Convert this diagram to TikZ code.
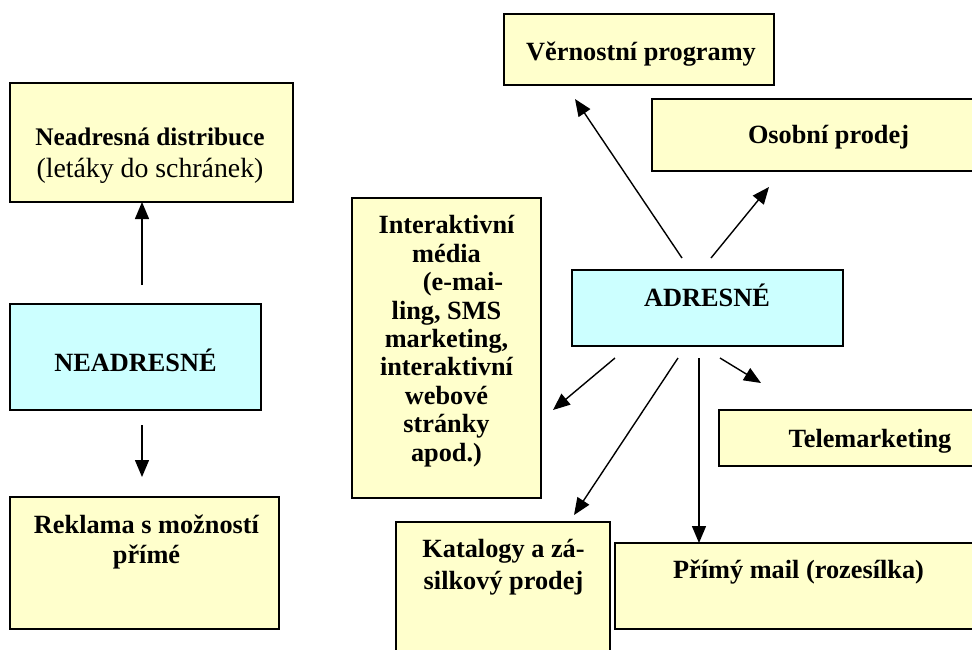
\documentclass[tikz,border=0pt]{standalone}
\usepackage{fontspec}
\setmainfont{Liberation Serif}
\usetikzlibrary{arrows.meta}

\definecolor{boxyellow}{HTML}{FFFFCC}
\definecolor{boxcyan}{HTML}{CCFFFF}

\tikzset{
    ybox/.style={draw, line width=1.2pt, fill=boxyellow, inner sep=0pt, outer sep=0pt},
    cbox/.style={ybox, fill=boxcyan},
    txt/.style={font=\fontsize{26.3}{#1}\selectfont\bfseries, align=center, inner sep=0pt, anchor=base},
    txt/.default=28.4,
    arr/.style={line width=1.4pt, -{Triangle[length=17pt,width=14pt]}}
}

\begin{document}
\begin{tikzpicture}[x=1pt, y=-1pt]
    \useasboundingbox (0,0) rectangle (972,649);
    %
    % boxes
    \node[ybox, minimum width=283pt, minimum height=119pt] (distr)   at (151.5,142.5) {};
    \node[cbox, minimum width=251pt, minimum height=106pt] (neadr)   at (135.5,357) {};
    \node[ybox, minimum width=269pt, minimum height=132pt] (reklama) at (144.5,563) {};
    \node[ybox, minimum width=270pt, minimum height=71pt]  (vern)    at (639,49.5) {};
    \node[ybox, minimum width=338pt, minimum height=72pt]  (osobni)  at (821,135) {};
    \node[ybox, minimum width=189pt, minimum height=300pt] (inter)   at (446.5,348) {};
    \node[cbox, minimum width=271pt, minimum height=76pt]  (adr)     at (707.5,308) {};
    \node[ybox, minimum width=271pt, minimum height=56pt]  (tele)    at (854.5,438) {};
    \node[ybox, minimum width=214pt, minimum height=138pt] (katal)   at (503,591) {};
    \node[ybox, minimum width=375pt, minimum height=86pt]  (mail)    at (802.5,586) {};
    %
    % texts (base = baseline of the last line)
    \node[txt=32, font=\fontsize{25.3}{32}\selectfont\bfseries] (tDistr) at (150,177) {Neadresná distribuce\\{\fontsize{27.8}{32}\selectfont\mdseries (letáky do schránek)}};
    \node[txt] (tNeadr)   at (135.5,371) {NEADRESNÉ};
    \node[txt=30] (tReklama) at (146.5,563) {Reklama s možností\\přímé};
    \node[txt] (tVern)    at (641,60) {Věrnostní programy};
    \node[txt] (tOsobni)  at (828.5,143) {Osobní prodej};
    \node[txt] (tInter)   at (446.5,461) {Interaktivní\\média\\\hspace*{33pt}(e-mai-\\ling, SMS\\marketing,\\interaktivní\\webové\\stránky\\apod.)};
    \node[txt] (tAdr)     at (707,306) {ADRESNÉ};
    \node[txt] (tTele)    at (870,447) {Telemarketing};
    \node[txt=32] (tKatal) at (503.5,589) {Katalogy a zá-\\silkový prodej};
    \node[txt] (tMail)    at (798.5,578) {Přímý mail (rozesílka)};
    %
    % free arrow ends
    \coordinate (sDistr) at (142,285);
    \coordinate (sRekl)  at (142,425);
    \coordinate (eRekl)  at (142,477);
    \coordinate (sVern)  at (682,258);
    \coordinate (eVern)  at (575,99);
    \coordinate (sOsob)  at (711,258);
    \coordinate (eOsob)  at (769,187);
    \coordinate (sInter) at (615,358);
    \coordinate (eInter) at (553,410);
    \coordinate (sKatal) at (678,358);
    \coordinate (eKatal) at (574,515);
    \coordinate (sMail)  at (699,358);
    \coordinate (sTele)  at (720,358);
    \coordinate (eTele)  at (761,383);
    %
    \draw[arr] (sDistr) -- (sDistr |- distr.south);
    \draw[arr] (sRekl) -- (eRekl);
    \draw[arr] (sVern) -- (eVern);
    \draw[arr] (sOsob) -- (eOsob);
    \draw[arr] (sInter) -- (eInter);
    \draw[arr] (sKatal) -- (eKatal);
    \draw[arr] (sMail) -- (sMail |- mail.north);
    \draw[arr] (sTele) -- (eTele);
\end{tikzpicture}
\end{document}
